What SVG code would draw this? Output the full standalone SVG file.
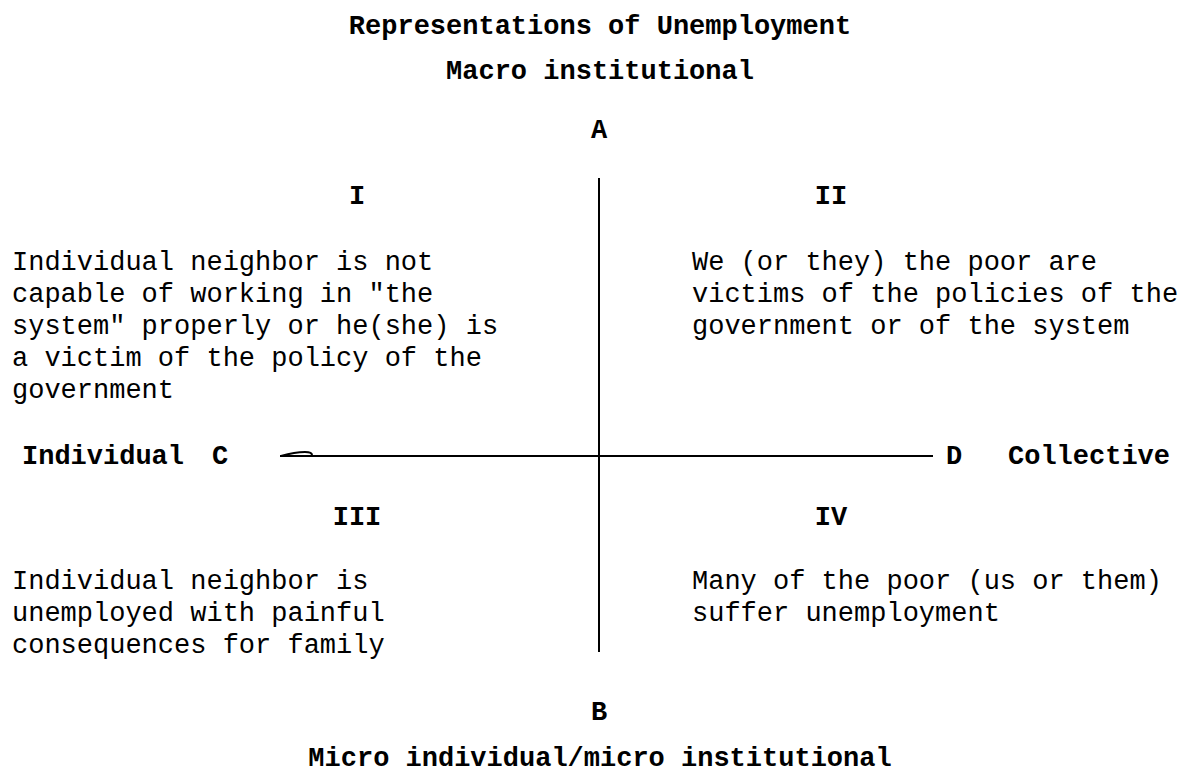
<svg xmlns="http://www.w3.org/2000/svg" width="1181" height="784" viewBox="0 0 1181 784">
<style>
text{font-family:"Liberation Mono","Courier New",monospace;font-size:27px;fill:#000}
.b{font-weight:bold}
.c{text-anchor:middle}
.ax{stroke:#000;stroke-width:2;fill:none}
</style>
<rect width="1181" height="784" fill="#fff"/>
<g id="title">
<text class="b c" x="600" y="34">Representations of Unemployment</text>
<text class="b c" x="600" y="79">Macro institutional</text>
</g>
<g id="connectors">
<line class="ax" x1="599" y1="178" x2="599" y2="652"/>
<line class="ax" x1="280" y1="456" x2="933" y2="456"/>
<path class="ax" d="M281 456 Q295 452 305 452 Q312 452 312 455" stroke-width="1.5"/>
</g>
<g id="A"><text class="b c" x="599" y="138">A</text></g>
<g id="B"><text class="b c" x="599" y="720">B</text></g>
<g id="C"><text class="b" x="22" y="464">Individual</text><text class="b" x="212" y="464">C</text></g>
<g id="D"><text class="b" x="946" y="464">D</text><text class="b" x="1008" y="464">Collective</text></g>
<g id="bottom"><text class="b c" x="600" y="766">Micro individual/micro institutional</text></g>
<g id="q1">
<text class="b c" x="357" y="204">I</text>
<text x="12" y="270">Individual neighbor is not</text>
<text x="12" y="302">capable of working in "the</text>
<text x="12" y="334">system" properly or he(she) is</text>
<text x="12" y="366">a victim of the policy of the</text>
<text x="12" y="398">government</text>
</g>
<g id="q2">
<text class="b c" x="831" y="204">II</text>
<text x="692" y="270">We (or they) the poor are</text>
<text x="692" y="302">victims of the policies of the</text>
<text x="692" y="334">government or of the system</text>
</g>
<g id="q3">
<text class="b c" x="357" y="525">III</text>
<text x="12" y="589">Individual neighbor is</text>
<text x="12" y="621">unemployed with painful</text>
<text x="12" y="653">consequences for family</text>
</g>
<g id="q4">
<text class="b c" x="831" y="525">IV</text>
<text x="692" y="589">Many of the poor (us or them)</text>
<text x="692" y="621">suffer unemployment</text>
</g>
</svg>
